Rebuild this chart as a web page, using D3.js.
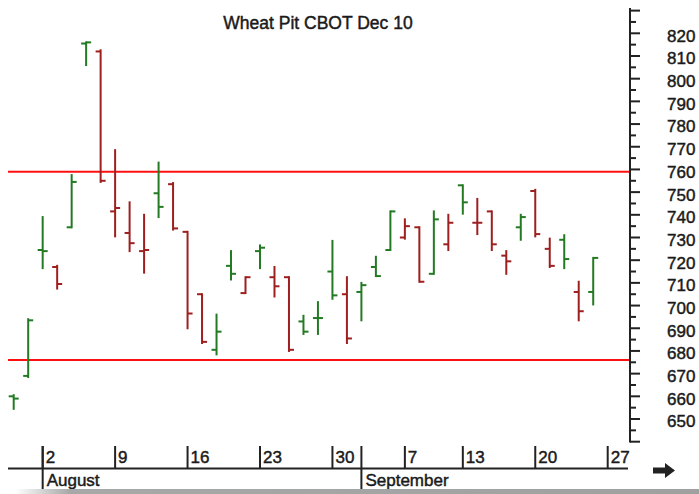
<!DOCTYPE html>
<html>
<head>
<meta charset="utf-8">
<script src="https://cdn.jsdelivr.net/npm/d3@7"></script>
<style>
  html, body { margin: 0; padding: 0; background: #fff; }
  svg { display: block; }
  text { font-family: "Liberation Sans", Arial, sans-serif; fill: #1a1a1a; stroke: #1a1a1a; stroke-width: 0.45px; }
</style>
</head>
<body>
<svg id="chart" width="699" height="494"></svg>
<script>
// ---- data ----
const dates = ["2010-07-29","2010-07-30","2010-08-02","2010-08-03","2010-08-04","2010-08-05","2010-08-06",
  "2010-08-09","2010-08-10","2010-08-11","2010-08-12","2010-08-13",
  "2010-08-16","2010-08-17","2010-08-18","2010-08-19","2010-08-20",
  "2010-08-23","2010-08-24","2010-08-25","2010-08-26","2010-08-27",
  "2010-08-30","2010-08-31","2010-09-01","2010-09-02","2010-09-03",
  "2010-09-07","2010-09-08","2010-09-09","2010-09-10",
  "2010-09-13","2010-09-14","2010-09-15","2010-09-16","2010-09-17",
  "2010-09-20","2010-09-21","2010-09-22","2010-09-23","2010-09-24"];
const opens  = [660,669,724.5,717,734.5,815.5,812, 741.5,732,724,749.5,753.5, 732.5,705,680.5,717.5,705.5,
  724,712.5,712.5,693,694.5, 715,705,706,717,724.5, 730,734.5,714,727, 753,736.5,741.5,722,734.5, 750.5,725,729,706,706];
const highs  = [660.5,694,739,717.5,757.5,816,812.5, 768.5,745.5,740,763,754, 732.5,705,696,724,712.5,
  726.5,717,712.5,695.5,701.5, 728.5,712.5,710,721.5,741.5, 738,734.5,741.5,740, 753,747,741.5,724,740, 751,729.5,731,710.5,721];
const lows   = [654.5,668.5,716.5,707.5,734.5,806,754.5, 730.5,724,714.5,739,733.5, 690,683.5,678.5,711.5,705.5,
  716.5,704,680,687.5,687.5, 703,683.5,693.5,713,724.5, 729.5,710.5,714,724.5, 740.5,731.5,724.5,714,729, 730.5,717,716.5,693.5,700.5];
const closes = [659,693.5,724,709.5,754.5,816,755, 743,727.5,724.5,743.5,734, 696.5,684,688.5,714,712.5,
  725.5,708.5,680.5,688.5,694.5, 704.5,685.5,709,713,741.5, 735,710.5,738,736.5, 745.5,736.5,727,719.5,739, 731.5,717.5,720.5,697.5,721];
const axisDates = dates.concat(["2010-09-27"]);
const weekTicks = ["2010-08-02","2010-08-09","2010-08-16","2010-08-23","2010-08-30","2010-09-07","2010-09-13","2010-09-20","2010-09-27"];
const weekLabels = ["2","9","16","23","30","7","13","20","27"];
const months = ["2010-08-02","2010-09-01"];
const monthLabels = ["August","September"];
const resistance = [759, 676];
const yLabelValues = d3.range(650, 821, 10);
const title = "Wheat Pit CBOT Dec 10";

// ---- scales ----
const svg = d3.select("#chart");
const x = d3.scalePoint().domain(axisDates).range([13.7, 607.7]);
const y = d3.scaleLinear().domain([640, 820]).range([441.7, 33.3]);

const green = "#237a23", red = "#9e1f1f";

// title
svg.append("text").attr("x", 318).attr("y", 29).attr("text-anchor", "middle")
  .style("font-size", "17.5px").text(title);

// horizontal red lines
svg.selectAll("line.res").data(resistance).enter().append("line")
  .attr("x1", 8).attr("x2", 630).attr("y1", d => y(d)).attr("y2", d => y(d))
  .attr("stroke", "#ff1010").attr("stroke-width", 2);

// OHLC bars
const bars = dates.map((d, i) => ({date: d, o: opens[i], h: highs[i], l: lows[i], c: closes[i],
  up: i === 0 ? true : closes[i] >= closes[i - 1]}));
const g = svg.append("g");
const bg = g.selectAll("g.bar").data(bars).enter().append("g")
  .attr("stroke", d => d.up ? green : red).attr("stroke-width", 2);
bg.append("line").attr("x1", d => x(d.date)).attr("x2", d => x(d.date))
  .attr("y1", d => y(d.h) - 1).attr("y2", d => y(d.l) + 1);
bg.append("line").attr("x1", d => x(d.date) - 5).attr("x2", d => x(d.date))
  .attr("y1", d => y(d.o)).attr("y2", d => y(d.o));
bg.append("line").attr("x1", d => x(d.date)).attr("x2", d => x(d.date) + 5)
  .attr("y1", d => y(d.c)).attr("y2", d => y(d.c));

// right axis
const major = d3.range(640, 831, 10);
const minor = d3.range(645, 831, 10);
const ax = svg.append("g").attr("transform", "translate(630,0)");
ax.append("line").attr("x1", 0).attr("x2", 0).attr("y1", 8).attr("y2", 442.5)
  .attr("stroke", "#222").attr("stroke-width", 2);
ax.selectAll("line.maj").data(major).enter().append("line")
  .attr("x1", 0).attr("x2", 10).attr("y1", d => y(d)).attr("y2", d => y(d))
  .attr("stroke", "#222").attr("stroke-width", 2);
ax.selectAll("line.min").data(minor).enter().append("line")
  .attr("x1", 0).attr("x2", 6).attr("y1", d => y(d)).attr("y2", d => y(d))
  .attr("stroke", "#222").attr("stroke-width", 2);
ax.selectAll("text").data(yLabelValues).enter().append("text")
  .attr("x", 37).attr("y", d => y(d) + 8.4).style("font-size", "17px").text(d => d);

// bottom axis
const bx = svg.append("g");
bx.append("line").attr("x1", 8).attr("x2", 628).attr("y1", 468.5).attr("y2", 468.5)
  .attr("stroke", "#222").attr("stroke-width", 2);
bx.selectAll("line.wk").data(weekTicks).enter().append("line")
  .attr("x1", d => x(d)).attr("x2", d => x(d)).attr("y1", 446).attr("y2", 468.5)
  .attr("stroke", "#222").attr("stroke-width", 2);
bx.selectAll("text.wk").data(weekTicks).enter().append("text")
  .attr("x", d => x(d) + 3).attr("y", 463).style("font-size", "17px")
  .text((d, i) => weekLabels[i]);
bx.selectAll("line.mo").data(months).enter().append("line")
  .attr("x1", d => x(d)).attr("x2", d => x(d)).attr("y1", 446).attr("y2", 490)
  .attr("stroke", "#222").attr("stroke-width", 2);
bx.selectAll("text.mo").data(months).enter().append("text")
  .attr("x", d => x(d) + 4).attr("y", 486).style("font-size", "17px")
  .text((d, i) => monthLabels[i]);

// bottom shadow band
const defs = svg.append("defs");
const lg = defs.append("linearGradient").attr("id", "shade").attr("x1", 0).attr("x2", 1).attr("y1", 0).attr("y2", 0);
lg.append("stop").attr("offset", "0%").attr("stop-color", "#fff");
lg.append("stop").attr("offset", "8%").attr("stop-color", "#a8a8a8");
lg.append("stop").attr("offset", "100%").attr("stop-color", "#a0a0a0");
svg.append("rect").attr("x", 15).attr("y", 489).attr("width", 684).attr("height", 5).attr("fill", "url(#shade)");

// arrow
svg.append("path")
  .attr("d", "M653,467.5 L665,467.5 L665,463 L675,470.5 L665,478 L665,473.5 L653,473.5 Z")
  .attr("fill", "#222");
</script>
</body>
</html>
